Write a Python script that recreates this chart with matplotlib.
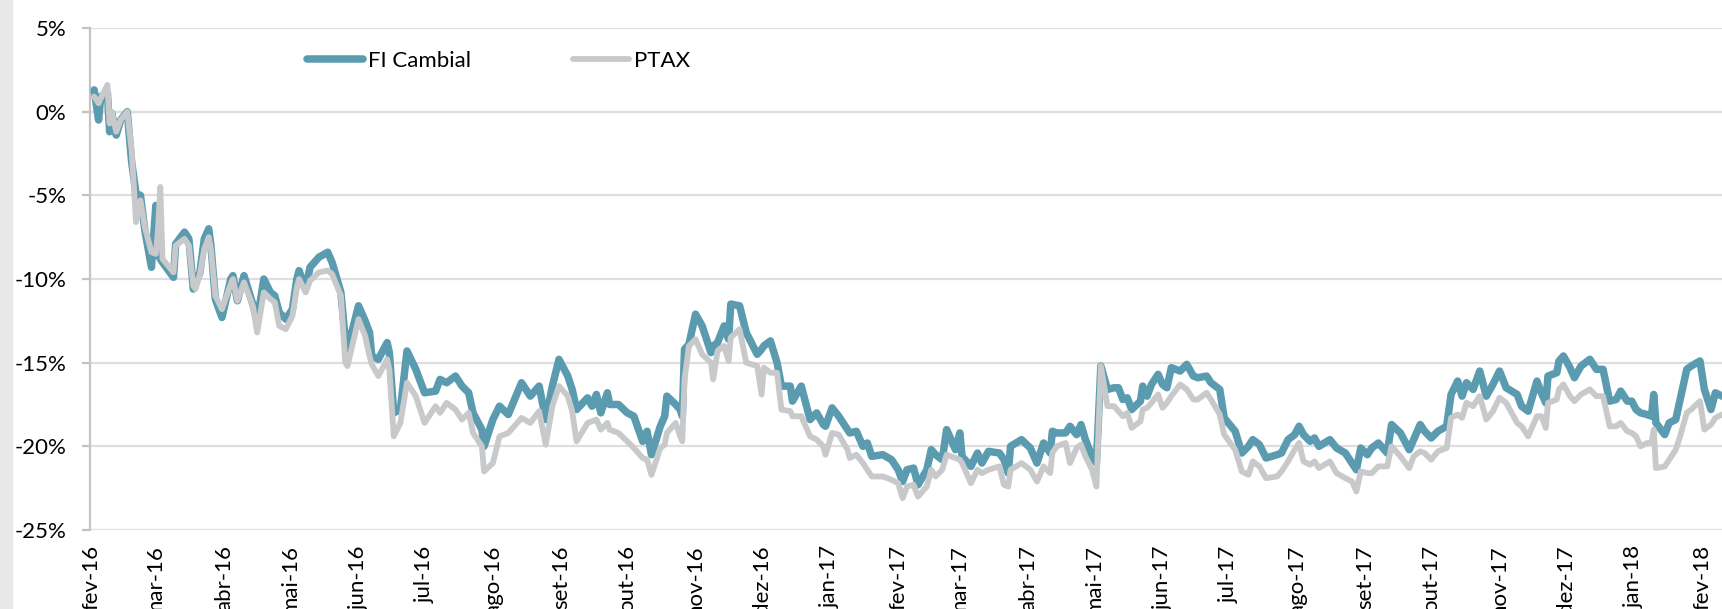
import numpy as np
import pandas as pd
import matplotlib
matplotlib.use("Agg")
import matplotlib.pyplot as plt
from matplotlib.patches import Rectangle

plt.rcParams['font.family'] = ['Lato', 'DejaVu Sans']

# days since 2016-02-01, values in %
days = [1, 3, 4, 7, 8, 9, 11, 13, 16, 18,
        20, 22, 24, 27, 29, 30, 31, 32, 37, 38,
        42, 44, 46, 47, 49, 51, 53, 54, 56, 59,
        63, 64, 66, 69, 73, 75, 78, 81, 83, 85,
        88, 91, 93, 94, 97, 99, 103, 107, 109, 113,
        115, 116, 121, 124, 126, 127, 130, 134, 135, 137,
        140, 143, 147, 151, 156, 158, 161, 165, 168, 171,
        173, 177, 178, 182, 185, 189, 195, 199, 203, 206,
        209, 212, 216, 218, 220, 225, 227, 229, 231, 234,
        235, 239, 243, 246, 250, 252, 254, 258, 260, 261,
        265, 267, 268, 269, 271, 274, 277, 281, 282, 284,
        287, 289, 290, 294, 297, 302, 304, 305, 308, 311,
        313, 317, 318, 322, 326, 329, 332, 333, 336, 339,
        343, 344, 347, 350, 352, 354, 359, 363, 366, 368,
        370, 373, 375, 379, 381, 383, 386, 388, 392, 394,
        395, 399, 402, 404, 407, 412, 414, 416, 417, 422,
        426, 429, 432, 435, 436, 438, 442, 444, 447, 449,
        451, 454, 456, 458, 461, 464, 466, 468, 470, 472,
        476, 477, 479, 481, 484, 486, 488, 490, 494, 497,
        500, 502, 506, 508, 512, 514, 519, 522, 525, 527,
        530, 533, 538, 540, 543, 546, 548, 550, 553, 555,
        557, 562, 565, 569, 572, 574, 576, 579, 581, 584,
        588, 590, 594, 598, 600, 603, 605, 608, 611, 615,
        617, 620, 622, 624, 627, 630, 633, 636, 639, 642,
        647, 649, 652, 656, 658, 660, 661, 665, 666, 668,
        671, 673, 676, 680, 683, 686, 689, 692, 694, 697,
        699, 701, 703, 706, 708, 709, 710, 714, 716, 719,
        721, 724, 726, 730, 732, 735, 737, 740]

fi_cambial = [1.3, -0.5, 0.9, 1.1, -1.2, -0.1, -1.4, -0.5, 0.0, -3.0,
              -4.9, -5.0, -7.1, -9.3, -5.6, -8.5, -8.8, -9.0, -9.9, -7.9,
              -7.2, -7.6, -10.6, -10.3, -9.6, -7.6, -7.0, -8.0, -11.2, -12.3,
              -10.0, -9.8, -11.3, -9.8, -11.5, -12.5, -10.0, -10.8, -11.0, -12.0,
              -12.4, -11.8, -10.0, -9.5, -10.6, -9.3, -8.7, -8.4, -9.0, -10.8,
              -13.6, -14.2, -11.6, -12.5, -13.2, -14.6, -14.8, -13.8, -14.4, -18.0,
              -17.8, -14.3, -15.4, -16.8, -16.7, -16.0, -16.2, -15.8, -16.4, -16.8,
              -18.0, -19.0, -20.0, -18.4, -17.6, -18.1, -16.2, -17.0, -16.4, -18.4,
              -16.4, -14.8, -15.8, -16.6, -17.8, -17.1, -17.6, -16.9, -18.0, -16.8,
              -17.5, -17.5, -18.0, -18.2, -19.7, -19.1, -20.5, -18.8, -18.2, -17.0,
              -17.5, -17.8, -18.2, -14.2, -13.9, -12.1, -12.8, -14.4, -14.0, -13.8,
              -12.8, -13.6, -11.5, -11.6, -13.2, -14.5, -14.2, -14.0, -13.7, -15.0,
              -16.4, -16.4, -17.3, -16.4, -18.4, -18.0, -18.7, -18.8, -17.7, -18.2,
              -19.0, -19.2, -19.1, -20.0, -19.8, -20.6, -20.5, -20.8, -21.4, -22.1,
              -21.4, -21.3, -22.3, -21.4, -20.2, -20.5, -20.8, -19.0, -20.2, -19.2,
              -20.6, -21.2, -20.4, -21.0, -20.3, -20.4, -20.8, -21.6, -20.0, -19.6,
              -20.1, -21.0, -19.8, -20.4, -19.1, -19.2, -19.2, -18.8, -19.3, -18.7,
              -19.6, -20.6, -21.0, -15.2, -16.6, -16.5, -16.5, -17.2, -17.1, -17.8,
              -17.3, -16.4, -17.0, -16.3, -15.7, -16.3, -16.5, -15.3, -15.5, -15.1,
              -15.8, -15.9, -15.8, -16.2, -16.6, -18.3, -19.1, -20.4, -20.0, -19.6,
              -19.9, -20.7, -20.5, -20.4, -19.6, -19.3, -18.8, -19.3, -19.7, -19.5,
              -20.0, -19.6, -20.1, -20.4, -21.0, -21.4, -20.1, -20.5, -20.1, -19.8,
              -20.4, -18.7, -19.2, -20.2, -19.6, -18.7, -19.1, -19.5, -19.1, -18.8,
              -16.9, -16.1, -17.0, -16.2, -16.6, -15.5, -17.0, -16.3, -15.5, -16.5,
              -16.9, -17.6, -17.9, -16.1, -16.8, -17.4, -15.8, -15.6, -14.9, -14.6,
              -15.3, -15.9, -15.2, -14.8, -15.4, -15.4, -17.3, -17.2, -16.7, -17.3,
              -17.3, -17.8, -18.0, -18.1, -18.2, -16.9, -18.6, -19.3, -18.6, -18.4,
              -17.2, -15.4, -15.2, -14.9, -16.6, -17.8, -16.8, -17.0]

ptax = [0.9, 0.5, 0.8, 1.6, -0.7, 0.0, -1.2, -0.5, 0.0, -2.3,
        -6.6, -5.3, -6.9, -8.4, -8.5, -7.0, -4.5, -8.8, -9.6, -8.0,
        -7.6, -8.0, -10.4, -10.6, -9.7, -8.2, -7.5, -8.2, -11.0, -11.8,
        -10.3, -10.0, -11.3, -10.2, -11.6, -13.2, -10.8, -11.2, -11.4, -12.8,
        -13.0, -12.2, -10.5, -10.0, -10.8, -10.1, -9.6, -9.5, -9.7, -11.0,
        -15.0, -15.2, -12.4, -13.4, -14.6, -15.1, -15.8, -14.8, -15.4, -19.4,
        -18.6, -16.2, -17.0, -18.6, -17.6, -18.0, -17.4, -17.8, -18.4, -18.0,
        -19.2, -20.0, -21.5, -21.0, -19.4, -19.2, -18.3, -18.6, -17.9, -19.9,
        -17.6, -16.4, -17.0, -17.9, -19.7, -18.6, -18.5, -18.4, -19.0, -18.6,
        -19.0, -19.2, -19.7, -20.1, -20.7, -20.8, -21.7, -20.1, -19.9, -19.2,
        -18.6, -19.4, -19.7, -16.0, -14.0, -13.6, -14.5, -15.0, -16.0, -14.3,
        -14.0, -14.9, -13.5, -13.0, -15.0, -15.2, -16.9, -15.3, -15.6, -15.6,
        -17.8, -17.9, -18.2, -18.2, -19.4, -19.6, -20.0, -20.5, -19.2, -19.3,
        -20.2, -20.7, -20.5, -21.0, -21.4, -21.8, -21.8, -22.0, -22.2, -23.1,
        -22.4, -22.3, -23.0, -22.4, -21.4, -21.8, -21.4, -20.5, -20.7, -20.8,
        -21.0, -22.2, -21.4, -21.6, -21.4, -21.2, -22.3, -22.4, -21.4, -21.0,
        -21.4, -22.1, -21.2, -21.6, -20.4, -20.0, -19.8, -21.0, -20.1, -19.9,
        -20.6, -21.4, -22.4, -15.2, -17.6, -17.6, -17.9, -18.2, -18.0, -18.9,
        -18.5, -17.8, -17.7, -17.4, -16.9, -17.7, -17.4, -17.0, -16.3, -16.6,
        -17.2, -17.2, -16.8, -17.2, -18.1, -19.3, -20.2, -21.5, -21.7, -20.9,
        -21.2, -21.9, -21.8, -21.5, -20.9, -20.2, -19.8, -20.9, -21.1, -20.9,
        -21.3, -20.9, -21.6, -21.9, -22.1, -22.7, -21.5, -21.6, -21.6, -21.2,
        -21.2, -20.0, -20.6, -21.3, -20.6, -20.3, -20.4, -20.8, -20.3, -20.1,
        -18.3, -18.1, -18.3, -17.4, -17.6, -17.0, -18.4, -17.9, -17.1, -17.4,
        -18.6, -18.8, -19.4, -18.2, -18.2, -18.9, -17.4, -17.2, -16.6, -16.3,
        -17.0, -17.3, -16.9, -16.6, -17.0, -17.0, -18.8, -18.8, -18.6, -19.1,
        -19.2, -19.4, -20.0, -19.8, -19.8, -19.0, -21.3, -21.2, -20.8, -20.2,
        -19.4, -18.0, -17.8, -17.3, -19.0, -18.7, -18.3, -18.1]

month_labels = ['fev-16', 'mar-16', 'abr-16', 'mai-16', 'jun-16', 'jul-16',
                'ago-16', 'set-16', 'out-16', 'nov-16', 'dez-16', 'jan-17',
                'fev-17', 'mar-17', 'abr-17', 'mai-17', 'jun-17', 'jul-17',
                'ago-17', 'set-17', 'out-17', 'nov-17', 'dez-17', 'jan-18',
                'fev-18']

start = pd.Timestamp('2016-02-01')
dates = start + pd.to_timedelta(days, unit='D')
month_ticks = pd.date_range(start, periods=len(month_labels), freq='MS')

blue = '#5b9bb0'
grey = '#c8c9cb'

fig = plt.figure(figsize=(17.22, 6.09), dpi=100)
fig.patches.append(Rectangle((0, 0), 12 / 1722, 1, transform=fig.transFigure,
                             color='#e8e8e8', zorder=0))
ax = fig.add_axes([90 / 1722, 1 - 530 / 609, 1 - 90 / 1722, (530 - 28) / 609])

ax.plot(dates, fi_cambial, color=blue, lw=5.4, solid_capstyle='round',
        solid_joinstyle='round', label='FI Cambial', zorder=3)
ax.plot(dates, ptax, color=grey, lw=4.2, solid_capstyle='round',
        solid_joinstyle='round', label='PTAX', zorder=4)

ax.set_ylim(-25, 5)
ax.set_xlim(start - pd.Timedelta(days=0.9), start + pd.Timedelta(days=740))
yt = np.arange(-25, 6, 5)
ax.set_yticks(yt)
ax.set_yticklabels([f'{v}%' for v in yt], fontsize=16)
ax.set_xticks(month_ticks)
ax.set_xticklabels(month_labels, rotation=90, fontsize=16, va='top', ha='center')

ax.grid(axis='y', color='#dedede', lw=1.6, zorder=0)
ax.axhline(0, color='#c4c4c4', lw=1.6, zorder=1)
for s in ['top', 'right', 'bottom']:
    ax.spines[s].set_visible(False)
ax.spines['left'].set_color('#c4c4c4')
ax.spines['left'].set_linewidth(1.6)
ax.tick_params(axis='y', length=6, width=1.6, color='#c4c4c4', pad=11)
ax.tick_params(axis='x', length=0, pad=11)

fig.legend(loc='center left', bbox_to_anchor=(307 / 1722, 1 - 61 / 609),
           ncol=2, frameon=False, fontsize=16, handlelength=2.5,
           handletextpad=0.25, columnspacing=4.6, borderpad=0, borderaxespad=0)

fig.savefig('out.png', dpi=100)
